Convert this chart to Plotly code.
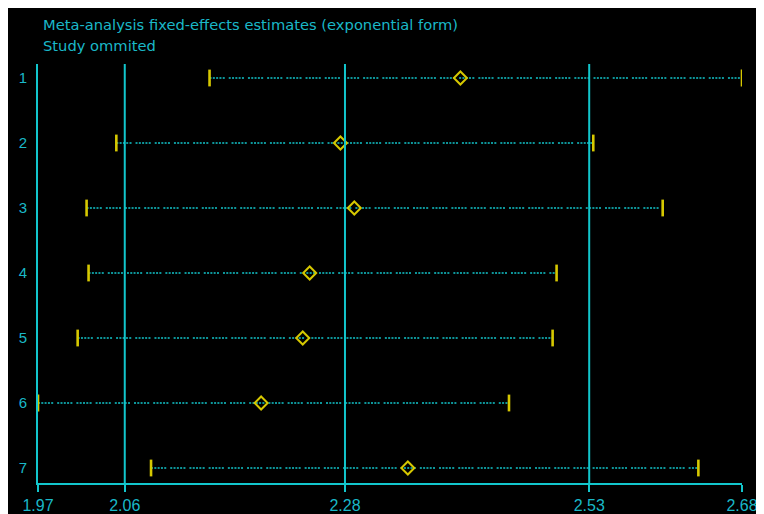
import plotly.graph_objects as go

# ---- data ----
studies = [1, 2, 3, 4, 5, 6, 7]
estimate = [2.396, 2.275, 2.289, 2.244, 2.237, 2.195, 2.343]
lower = [2.143, 2.049, 2.019, 2.021, 2.010, 1.970, 2.084]
upper = [2.680, 2.530, 2.600, 2.493, 2.489, 2.445, 2.636]

# overall combined estimate and its CI (vertical reference lines)
ref_lines = [2.0575, 2.2796, 2.5259]
axis_min, axis_max = 1.97, 2.68
tick_vals = [1.97, 2.0575, 2.2796, 2.5259, 2.68]
tick_text = ["1.97", "2.06", "2.28", "2.53", "2.68"]

title_lines = ["Meta-analysis fixed-effects estimates (exponential form)", "Study ommited"]

TEAL = "#12C6CC"
TEXT = "#1AB8C8"
YELLOW = "#D6C800"

W, H = 764, 514
L, R, T, B = 30, 30, 56, 39
plot_w = W - L - R
plot_h = H - T - B

# y range so that rows are 65 px apart, row 1 at 14px below top
y_top = 1 - 14 / 65
y_bot = 7 + 15 / 65

fig = go.Figure()

# CI dotted lines
xs, ys = [], []
for s, lo, up in zip(studies, lower, upper):
    xs += [lo, up, None]
    ys += [s, s, None]
fig.add_trace(go.Scatter(
    x=xs, y=ys, mode="lines",
    line=dict(color=TEAL, width=1.7,
              dash="2px,1.3px,2px,1.3px,2px,1.3px,2px,1.3px,2px,4px"),
    hoverinfo="skip", showlegend=False))

# end caps
fig.add_trace(go.Scatter(
    x=lower + upper, y=studies + studies, mode="markers",
    marker=dict(symbol="line-ns", size=12, line=dict(color=YELLOW, width=2.6)),
    hoverinfo="skip", showlegend=False))

# point estimates
fig.add_trace(go.Scatter(
    x=estimate, y=studies, mode="markers",
    marker=dict(symbol="diamond-open", size=10, color=YELLOW,
                line=dict(color=YELLOW, width=2)),
    hoverinfo="skip", showlegend=False))

shapes = []
for v in ref_lines:
    shapes.append(dict(type="line", xref="x", yref="paper", x0=v, x1=v, y0=0, y1=1,
                       line=dict(color=TEAL, width=2), layer="above"))

px2x = lambda p: (p - L) / plot_w
py2y = lambda p: (H - B - p) / plot_h

annotations = []
for i, t in enumerate(title_lines):
    annotations.append(dict(text=t, xref="paper", yref="paper",
                            x=px2x(33), y=py2y(17 + 20 * i),
                            xanchor="left", yanchor="middle", showarrow=False,
                            font=dict(family="DejaVu Sans", size=14.7, color=TEXT)))

fig.update_layout(
    template="none",
    width=W, height=H,
    margin=dict(l=L, r=R, t=T, b=B, pad=0),
    paper_bgcolor="black", plot_bgcolor="black",
    shapes=shapes, annotations=annotations,
    xaxis=dict(range=[axis_min, axis_max], showgrid=False, zeroline=False,
               automargin=False,
               showline=True, linecolor=TEAL, linewidth=2,
               tickmode="array", tickvals=tick_vals, ticktext=tick_text,
               ticks="outside", ticklen=7, tickwidth=2, tickcolor=TEAL,
               tickfont=dict(family="Liberation Sans Narrow, Liberation Sans", size=16, color=TEXT)),
    yaxis=dict(range=[y_bot, y_top], showgrid=False, zeroline=False,
               automargin=False,
               showline=True, linecolor=TEAL, linewidth=2,
               tickmode="array", tickvals=studies, ticktext=[str(s) for s in studies],
               ticks="", ticklabelstandoff=6,
               tickfont=dict(family="Liberation Sans", size=15, color=TEXT)),
)

fig.write_html(
    "out.html",
    post_script="document.documentElement.style.overflow='hidden';"
                "document.body.style.overflow='hidden';",
)
